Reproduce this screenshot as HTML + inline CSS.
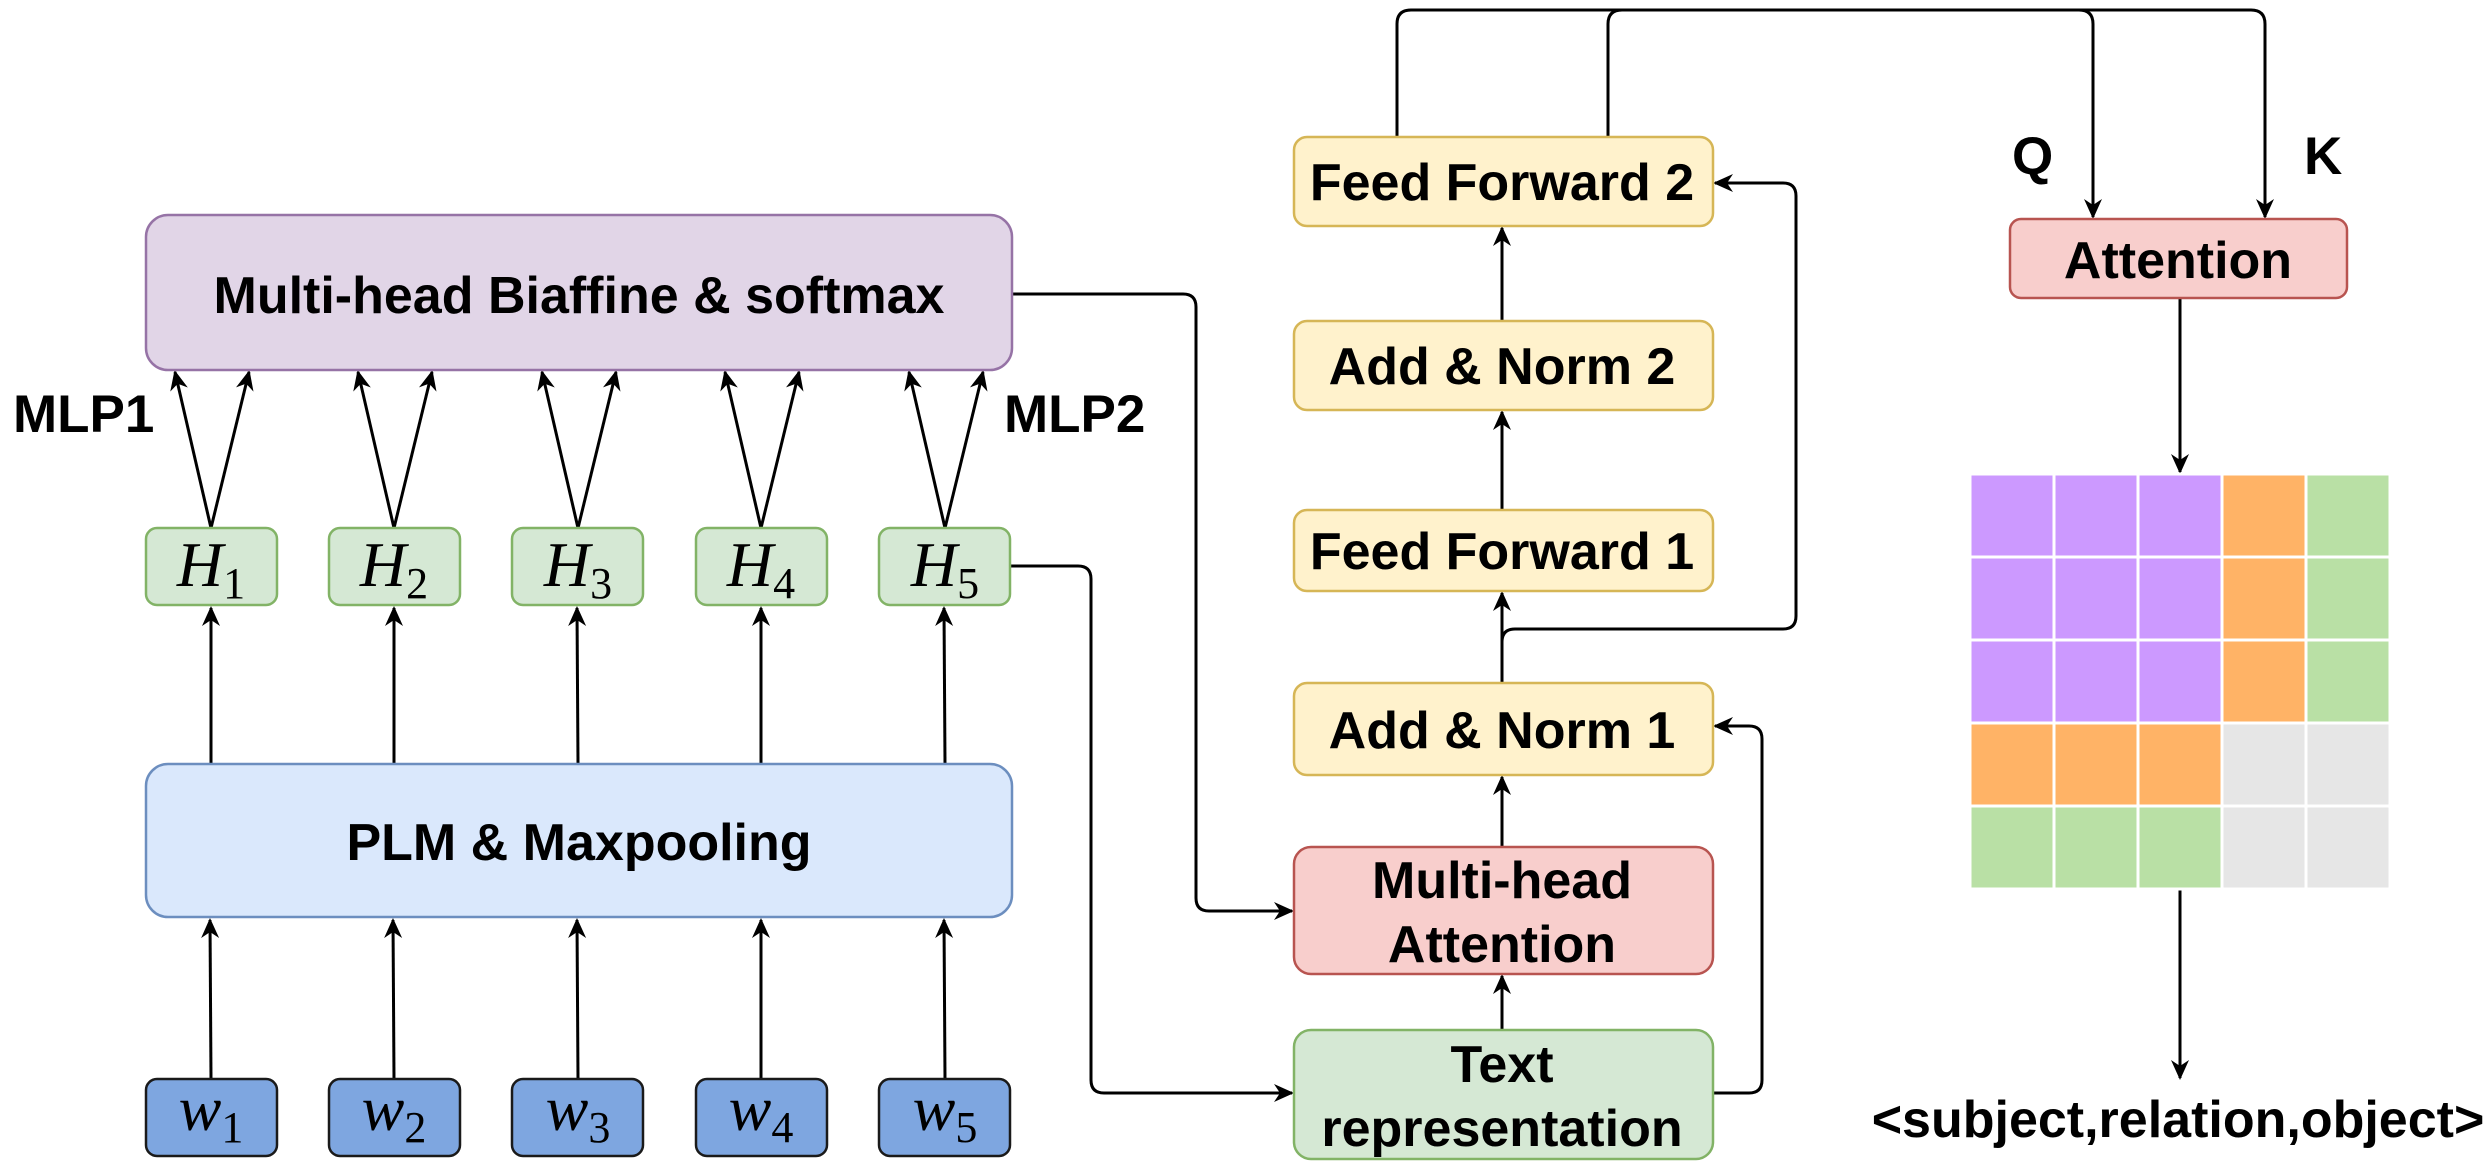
<!DOCTYPE html>
<html><head><meta charset="utf-8"><style>
html,body{margin:0;padding:0;background:#fff}
svg{display:block}
text{font-family:"Liberation Sans",Arial,sans-serif;font-weight:bold;fill:#000}
.m{font-family:"Liberation Serif",serif;font-weight:normal}
</style></head><body>
<svg width="2492" height="1166" viewBox="0 0 2492 1166" xmlns="http://www.w3.org/2000/svg">
<defs>
<marker id="a" markerWidth="20" markerHeight="20" refX="18" refY="10" orient="auto" markerUnits="userSpaceOnUse">
<path d="M0,1 L20,10 L0,19 L6,10 Z" fill="#000"/>
</marker>
</defs>
<g stroke="#000" stroke-width="3" fill="none">
<line x1="211" y1="1079" x2="210" y2="920" marker-end="url(#a)"/>
<line x1="394" y1="1079" x2="393" y2="920" marker-end="url(#a)"/>
<line x1="578" y1="1079" x2="577" y2="920" marker-end="url(#a)"/>
<line x1="761" y1="1079" x2="761" y2="920" marker-end="url(#a)"/>
<line x1="945" y1="1079" x2="944" y2="920" marker-end="url(#a)"/>
<line x1="211" y1="764" x2="211" y2="608" marker-end="url(#a)"/>
<line x1="394" y1="764" x2="394" y2="608" marker-end="url(#a)"/>
<line x1="578" y1="764" x2="577" y2="608" marker-end="url(#a)"/>
<line x1="761" y1="764" x2="761" y2="608" marker-end="url(#a)"/>
<line x1="945" y1="764" x2="944" y2="608" marker-end="url(#a)"/>
<line x1="211" y1="528" x2="175" y2="372" marker-end="url(#a)"/>
<line x1="211" y1="528" x2="249" y2="372" marker-end="url(#a)"/>
<line x1="394" y1="528" x2="358" y2="372" marker-end="url(#a)"/>
<line x1="394" y1="528" x2="432" y2="372" marker-end="url(#a)"/>
<line x1="578" y1="528" x2="542" y2="372" marker-end="url(#a)"/>
<line x1="578" y1="528" x2="616" y2="372" marker-end="url(#a)"/>
<line x1="761" y1="528" x2="725" y2="372" marker-end="url(#a)"/>
<line x1="761" y1="528" x2="799" y2="372" marker-end="url(#a)"/>
<line x1="945" y1="528" x2="909" y2="372" marker-end="url(#a)"/>
<line x1="945" y1="528" x2="983" y2="372" marker-end="url(#a)"/>
<path d="M1012,294 H1183 Q1196,294 1196,307 V898 Q1196,911 1209,911 H1292" marker-end="url(#a)"/>
<path d="M1009,566 H1078 Q1091,566 1091,579 V1080 Q1091,1093 1104,1093 H1292" marker-end="url(#a)"/>
<line x1="1502" y1="1030" x2="1502" y2="976" marker-end="url(#a)"/>
<line x1="1502" y1="847" x2="1502" y2="777" marker-end="url(#a)"/>
<line x1="1502" y1="683" x2="1502" y2="593" marker-end="url(#a)"/>
<line x1="1502" y1="510" x2="1502" y2="412" marker-end="url(#a)"/>
<line x1="1502" y1="321" x2="1502" y2="228" marker-end="url(#a)"/>
<path d="M1713,1093 H1749 Q1762,1093 1762,1080 V739 Q1762,726 1749,726 H1715" marker-end="url(#a)"/>
<path d="M1502,642 Q1502,629 1515,629 H1783 Q1796,629 1796,616 V196 Q1796,183 1783,183 H1715" marker-end="url(#a)"/>
<path d="M1397,137 V24 Q1397,10 1411,10 H2079 Q2093,10 2093,24 V217" marker-end="url(#a)"/>
<path d="M1608,137 V24 Q1608,10 1622,10 H2251 Q2265,10 2265,24 V217" marker-end="url(#a)"/>
<line x1="2180" y1="299" x2="2180" y2="472" marker-end="url(#a)"/>
<line x1="2180" y1="890" x2="2180" y2="1078" marker-end="url(#a)"/>
</g>
<rect x="146" y="215" width="866" height="155" rx="22" fill="#e1d5e7" stroke="#9673a6" stroke-width="2.5"/>
<rect x="146" y="764" width="866" height="153" rx="22" fill="#dae8fc" stroke="#6c8ebf" stroke-width="2.5"/>
<g fill="#d5e8d4" stroke="#82b366" stroke-width="2.5">
<rect x="146" y="528" width="131" height="77" rx="11"/>
<rect x="329" y="528" width="131" height="77" rx="11"/>
<rect x="512" y="528" width="131" height="77" rx="11"/>
<rect x="696" y="528" width="131" height="77" rx="11"/>
<rect x="879" y="528" width="131" height="77" rx="11"/>
</g>
<g fill="#7ea6e0" stroke="#1a1a1a" stroke-width="2.5">
<rect x="146" y="1079" width="131" height="77" rx="11"/>
<rect x="329" y="1079" width="131" height="77" rx="11"/>
<rect x="512" y="1079" width="131" height="77" rx="11"/>
<rect x="696" y="1079" width="131" height="77" rx="11"/>
<rect x="879" y="1079" width="131" height="77" rx="11"/>
</g>
<g fill="#fff2cc" stroke="#d6b656" stroke-width="2.5">
<rect x="1294" y="137" width="419" height="89" rx="13"/>
<rect x="1294" y="321" width="419" height="89" rx="13"/>
<rect x="1294" y="510" width="419" height="81" rx="13"/>
<rect x="1294" y="683" width="419" height="92" rx="13"/>
</g>
<rect x="1294" y="847" width="419" height="127" rx="17" fill="#f8cecc" stroke="#b85450" stroke-width="2.5"/>
<rect x="1294" y="1030" width="419" height="129" rx="17" fill="#d5e8d4" stroke="#82b366" stroke-width="2.5"/>
<rect x="2010" y="219" width="337" height="79" rx="11" fill="#f8cecc" stroke="#b85450" stroke-width="2.5"/>
<g stroke="#fff" stroke-width="3">
<rect x="1970" y="474" width="84" height="83" fill="#cc99ff"/>
<rect x="2054" y="474" width="84" height="83" fill="#cc99ff"/>
<rect x="2138" y="474" width="84" height="83" fill="#cc99ff"/>
<rect x="2222" y="474" width="84" height="83" fill="#ffb366"/>
<rect x="2306" y="474" width="84" height="83" fill="#b9e0a5"/>
<rect x="1970" y="557" width="84" height="83" fill="#cc99ff"/>
<rect x="2054" y="557" width="84" height="83" fill="#cc99ff"/>
<rect x="2138" y="557" width="84" height="83" fill="#cc99ff"/>
<rect x="2222" y="557" width="84" height="83" fill="#ffb366"/>
<rect x="2306" y="557" width="84" height="83" fill="#b9e0a5"/>
<rect x="1970" y="640" width="84" height="83" fill="#cc99ff"/>
<rect x="2054" y="640" width="84" height="83" fill="#cc99ff"/>
<rect x="2138" y="640" width="84" height="83" fill="#cc99ff"/>
<rect x="2222" y="640" width="84" height="83" fill="#ffb366"/>
<rect x="2306" y="640" width="84" height="83" fill="#b9e0a5"/>
<rect x="1970" y="723" width="84" height="83" fill="#ffb366"/>
<rect x="2054" y="723" width="84" height="83" fill="#ffb366"/>
<rect x="2138" y="723" width="84" height="83" fill="#ffb366"/>
<rect x="2222" y="723" width="84" height="83" fill="#e6e6e6"/>
<rect x="2306" y="723" width="84" height="83" fill="#e6e6e6"/>
<rect x="1970" y="806" width="84" height="83" fill="#b9e0a5"/>
<rect x="2054" y="806" width="84" height="83" fill="#b9e0a5"/>
<rect x="2138" y="806" width="84" height="83" fill="#b9e0a5"/>
<rect x="2222" y="806" width="84" height="83" fill="#e6e6e6"/>
<rect x="2306" y="806" width="84" height="83" fill="#e6e6e6"/>
</g>
<g font-size="52" text-anchor="middle">
<text x="579" y="313">Multi-head Biaffine &amp; softmax</text>
<text x="579" y="860">PLM &amp; Maxpooling</text>
<text x="1502" y="200">Feed Forward 2</text>
<text x="1502" y="384">Add &amp; Norm 2</text>
<text x="1502" y="569">Feed Forward 1</text>
<text x="1502" y="748">Add &amp; Norm 1</text>
<text x="1502" y="898">Multi-head</text>
<text x="1502" y="962">Attention</text>
<text x="1502" y="1082">Text</text>
<text x="1502" y="1146">representation</text>
<text x="2178" y="278">Attention</text>
<text x="2178" y="1137">&lt;subject,relation,object&gt;</text>
</g>
<g font-size="53">
<text x="13" y="432">MLP1</text>
<text x="1004" y="432">MLP2</text>
<text x="2012" y="174">Q</text>
<text x="2304" y="174">K</text>
</g>
<g class="m" font-size="64" text-anchor="middle">
<text x="211" y="586" class="m"><tspan font-style="italic">H</tspan><tspan font-size="44" dy="12">1</tspan></text>
<text x="394" y="586" class="m"><tspan font-style="italic">H</tspan><tspan font-size="44" dy="12">2</tspan></text>
<text x="578" y="586" class="m"><tspan font-style="italic">H</tspan><tspan font-size="44" dy="12">3</tspan></text>
<text x="761" y="586" class="m"><tspan font-style="italic">H</tspan><tspan font-size="44" dy="12">4</tspan></text>
<text x="945" y="586" class="m"><tspan font-style="italic">H</tspan><tspan font-size="44" dy="12">5</tspan></text>
<text x="211" y="1130" class="m"><tspan font-style="italic">w</tspan><tspan font-size="44" dy="12">1</tspan></text>
<text x="394" y="1130" class="m"><tspan font-style="italic">w</tspan><tspan font-size="44" dy="12">2</tspan></text>
<text x="578" y="1130" class="m"><tspan font-style="italic">w</tspan><tspan font-size="44" dy="12">3</tspan></text>
<text x="761" y="1130" class="m"><tspan font-style="italic">w</tspan><tspan font-size="44" dy="12">4</tspan></text>
<text x="945" y="1130" class="m"><tspan font-style="italic">w</tspan><tspan font-size="44" dy="12">5</tspan></text>
</g>
</svg>
</body></html>
